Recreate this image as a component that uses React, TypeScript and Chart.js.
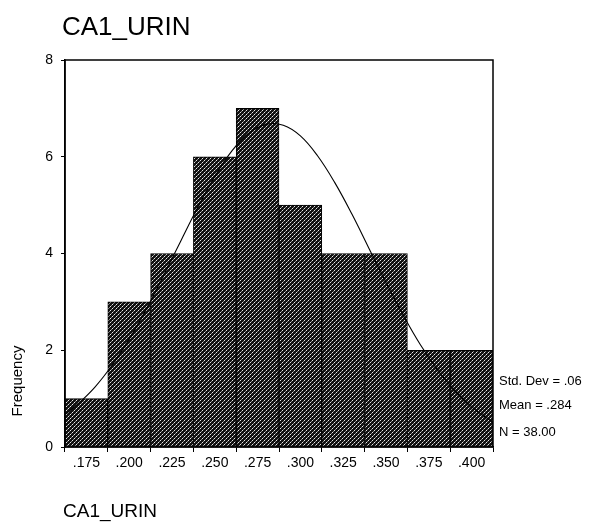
import React, { useEffect, useRef } from "react";
import { Chart, registerables } from "chart.js";

Chart.register(...registerables);

const chartTitle = "CA1_URIN";
const xAxisTitle = "CA1_URIN";
const yAxisTitle = "Frequency";
const binCenters = [0.175, 0.2, 0.225, 0.25, 0.275, 0.3, 0.325, 0.35, 0.375, 0.4];
const frequencies = [1, 3, 4, 6, 7, 5, 4, 4, 2, 2];
const xTickLabels = [".175", ".200", ".225", ".250", ".275", ".300", ".325", ".350", ".375", ".400"];
const yTickValues = [0, 2, 4, 6, 8];
// normal curve
const curveX = [0.1625, 0.17, 0.18, 0.19, 0.2, 0.21, 0.22, 0.23, 0.24, 0.25, 0.26, 0.27, 0.28, 0.29, 0.3, 0.31, 0.32, 0.33, 0.34, 0.35, 0.36, 0.37, 0.38, 0.39, 0.4, 0.41, 0.4125];
const curveY = [0.67, 0.89, 1.24, 1.69, 2.23, 2.85, 3.54, 4.25, 4.95, 5.59, 6.12, 6.49, 6.67, 6.65, 6.43, 6.02, 5.47, 4.82, 4.11, 3.4, 2.73, 2.12, 1.6, 1.17, 0.83, 0.57, 0.51];
const statsLines = ["Std. Dev = .06", "Mean = .284", "N = 38.00"];

const FONT = "'Liberation Sans', Arial, sans-serif";

export default function App() {
  const ref = useRef<HTMLCanvasElement>(null);
  useEffect(() => {
    document.body.style.margin = "0";
    const canvas = ref.current!;
    const tile = document.createElement("canvas");
    tile.width = 4;
    tile.height = 4;
    const tctx = tile.getContext("2d")!;
    tctx.fillStyle = "#111";
    tctx.fillRect(0, 0, 4, 4);
    for (let y = 0; y < 4; y++) {
      for (let x = 0; x < 4; x++) {
        if ((x + y) % 4 === 0) {
          tctx.fillStyle = y % 2 === 0 ? "#e8e8e8" : "#8a8a8a";
          tctx.fillRect(x, y, 1, 1);
        }
      }
    }
    const ctx0 = canvas.getContext("2d")!;
    const pattern = ctx0.createPattern(tile, "repeat")!;

    const decor = {
      id: "decor",
      afterDatasetsDraw(chart: any) {
        const { ctx, chartArea } = chart;
        ctx.save();
        ctx.strokeStyle = "#000";
        ctx.lineWidth = 1.5;
        ctx.strokeRect(chartArea.left, chartArea.top, chartArea.right - chartArea.left, chartArea.bottom - chartArea.top);
        ctx.restore();
      },
      afterDraw(chart: any) {
        const { ctx } = chart;
        ctx.save();
        ctx.fillStyle = "#000";
        ctx.textAlign = "left";
        ctx.textBaseline = "alphabetic";
        ctx.font = `26px ${FONT}`;
        ctx.fillText(chartTitle, 62, 35);
        ctx.font = `19px ${FONT}`;
        ctx.fillText(xAxisTitle, 63, 517);
        ctx.font = `13px ${FONT}`;
        ctx.textBaseline = "middle";
        const ys = [381, 405, 432];
        statsLines.forEach((s, i) => ctx.fillText(s, 499, ys[i]));
        ctx.translate(18, 381);
        ctx.rotate(-Math.PI / 2);
        ctx.textAlign = "center";
        ctx.font = `15px ${FONT}`;
        ctx.fillText(yAxisTitle, 0, 0);
        ctx.restore();
      },
    };

    const chart = new Chart(canvas, {
      type: "bar",
      data: {
        datasets: [
          {
            type: "line",
            data: curveX.map((x, i) => ({ x, y: curveY[i] })),
            borderColor: "#000",
            borderWidth: 1.1,
            pointRadius: 0,
            tension: 0.4,
            fill: false,
            order: 0,
          } as any,
          {
            type: "bar",
            data: binCenters.map((x, i) => ({ x, y: frequencies[i] })),
            backgroundColor: pattern,
            borderColor: "#000",
            borderWidth: 1,
            barPercentage: 1,
            categoryPercentage: 1,
            order: 1,
          } as any,
        ],
      },
      options: {
        animation: false,
        responsive: false,
        layout: { padding: { left: 0, right: 106, top: 60, bottom: 0 } },
        plugins: { legend: { display: false }, tooltip: { enabled: false } },
        scales: {
          x: {
            type: "linear",
            min: 0.1625,
            max: 0.4125,
            offset: false,
            afterBuildTicks: (scale: any) => {
              scale.ticks = binCenters.map((v) => ({ value: v }));
            },
            afterFit: (scale: any) => {
              scale.height = 78;
            },
            grid: { drawOnChartArea: false, drawTicks: true, tickLength: 5, color: "#000", lineWidth: 1 },
            border: { display: true, color: "#000", width: 1.5 },
            ticks: {
              autoSkip: false,
              maxRotation: 0,
              padding: 3,
              color: "#000",
              font: { family: FONT, size: 14 },
              callback: (_v: any, i: number) => xTickLabels[i],
            },
          },
          y: {
            type: "linear",
            min: 0,
            max: 8,
            afterBuildTicks: (scale: any) => {
              scale.ticks = yTickValues.map((v) => ({ value: v }));
            },
            afterFit: (scale: any) => {
              scale.width = 65;
            },
            grid: { drawOnChartArea: false, drawTicks: true, tickLength: 4, color: "#000", lineWidth: 1 },
            border: { display: true, color: "#000", width: 1.5 },
            ticks: {
              padding: 8,
              color: "#000",
              font: { family: FONT, size: 14 },
              callback: (v: any) => String(v),
            },
          },
        },
      } as any,
      plugins: [decor],
    });
    return () => chart.destroy();
  }, []);
  return (
    <div style={{ width: 599, height: 525, background: "#fff" }}>
      <canvas ref={ref} width={599} height={525} style={{ display: "block", width: 599, height: 525 }} />
    </div>
  );
}
